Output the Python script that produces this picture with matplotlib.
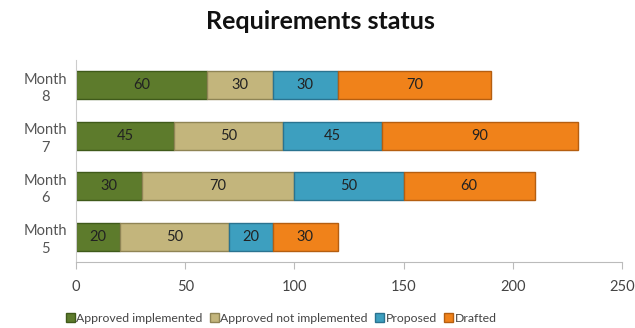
import numpy as np
from matplotlib import pyplot as plt

plt.rcParams['font.family'] = ['Lato', 'DejaVu Sans']

months = ['Month\n5', 'Month\n6', 'Month\n7', 'Month\n8']
approved_impl = [20, 30, 45, 60]
approved_not = [50, 70, 50, 30]
proposed = [20, 50, 45, 30]
drafted = [30, 60, 90, 70]

series = [approved_impl, approved_not, proposed, drafted]
names = ['Approved implemented', 'Approved not implemented', 'Proposed', 'Drafted']
colors = ['#5d7b2c', '#c3b57c', '#3d9fbf', '#f0821a']
edges = ['#3f5a1a', '#8f8455', '#2a7390', '#b55e10']

fig = plt.figure(figsize=(6.35, 3.28), dpi=100)
ax = fig.add_axes([0.1197, 0.2012, 0.8598, 0.6158])

y = np.arange(len(months))
left = np.zeros(len(months))
for vals, name, c, ec in zip(series, names, colors, edges):
    bars = ax.barh(y, vals, left=left, height=0.56, color=c, edgecolor=ec, linewidth=1, label=name)
    for b, v in zip(bars, vals):
        ax.text(b.get_x() + b.get_width() / 2, b.get_y() + b.get_height() / 2, str(v),
                ha='center', va='center', fontsize=10.5, color='#222222')
    left += np.array(vals)

ax.set_xlim(0, 250)
ax.set_ylim(-0.5, 3.5)
ax.set_yticks(y)
ax.set_yticklabels(months, fontsize=10.5, color='#555555', ha='center', linespacing=1.3)
ax.tick_params(axis='y', length=0, pad=22)
ax.set_xticks(np.arange(0, 251, 50))
ax.tick_params(axis='x', colors='#bbbbbb', labelcolor='#444444', labelsize=10.5, length=5, pad=8)
for s in ['top', 'right']:
    ax.spines[s].set_visible(False)
ax.spines['left'].set_color('#cccccc')
ax.spines['bottom'].set_color('#bbbbbb')

fig.text(0.505, 0.935, 'Requirements status', ha='center', va='center', fontsize=18, fontweight='bold', color='#111111')

fig.legend(loc='center', bbox_to_anchor=(0.443, 0.03), ncol=4, frameon=False, fontsize=8.8,
           handlelength=0.7, handleheight=0.7, handletextpad=0.15, columnspacing=0.6, labelcolor='#444444')

fig.savefig('out.png', dpi=100)
